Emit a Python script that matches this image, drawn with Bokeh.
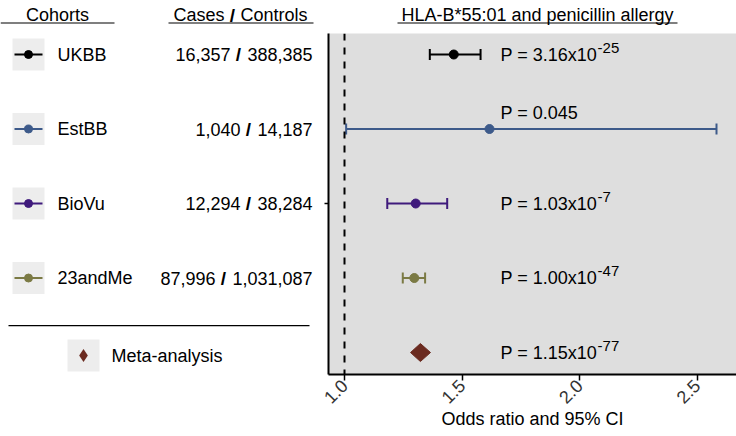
import math
from bokeh.plotting import figure
from bokeh.layouts import column, row
from bokeh.models import Range1d, ColumnDataSource, Span, FixedTicker, PrintfTickFormatter
from bokeh.core.properties import value
from bokeh.embed import file_html
from bokeh.resources import INLINE

# ---------------- data ----------------
cohorts = ["UKBB", "EstBB", "BioVu", "23andMe"]
cases = ["16,357", "1,040", "12,294", "87,996"]
controls = ["388,385", "14,187", "38,284", "1,031,087"]
odds_ratio = [1.465, 1.617, 1.303, 1.297]
ci_low = [1.363, 1.007, 1.182, 1.248]
ci_high = [1.579, 2.583, 1.437, 1.343]
p_mantissa = ["3.16x10", "0.045", "1.03x10", "1.00x10"]
p_exponent = ["-25", "", "-7", "-47"]

meta_label = "Meta-analysis"
meta_or = 1.323
meta_low = 1.281
meta_high = 1.366
meta_p_mantissa = "1.15x10"
meta_p_exponent = "-77"

x_ticks = [1.0, 1.5, 2.0, 2.5]
colors = ["#000000", "#3D5A8A", "#3F1A7C", "#7B7A44"]
meta_color = "#6B2B20"

title_text = "HLA-B*55:01 and penicillin allergy"
x_label = "Odds ratio and 95% CI"

# ---------------- styling ----------------
FONT = value("Liberation Sans")
FS = 18
SUP_FS = 15
PANEL_BG = "#DEDEDE"
KEY_BG = "#EDEDED"
ROW_TOP, ROW_BOTTOM = 0.718, 5.295
P_X = 1.664
TOTAL_W, TOTAL_H = 736, 436
HEAD_H = 33
LEFT_W = 316
FRAME_LEFT = 328          # page x of forest panel's left edge
PX_PER_UNIT = 235.0       # horizontal scale of forest panel
BOTTOM_BORDER = 62

# approximate Arial/Helvetica advance widths (em)
_W = {c: 0.556 for c in "0123456789"}
_W.update({".": 0.278, ",": 0.278, "x": 0.5, "P": 0.667, " ": 0.278, "=": 0.584, "-": 0.333})


def text_width(s, size):
    return sum(_W.get(c, 0.55) for c in s) * size


rows = list(range(1, len(cohorts) + 1))
meta_row = len(cohorts) + 1
body_h = TOTAL_H - HEAD_H

# ---------------- header figure ----------------
head = figure(width=TOTAL_W, height=HEAD_H, x_range=Range1d(0, TOTAL_W), y_range=Range1d(HEAD_H, 0),
              toolbar_location=None, output_backend="svg", x_axis_type=None, y_axis_type=None,
              min_border=0, outline_line_color=None)
HEAD_Y = 14.5
head.text(x=[57, 537], y=[HEAD_Y, HEAD_Y], text=["Cohorts", title_text],
          text_font=FONT, text_font_size=f"{FS}px", text_align="center",
          text_baseline="alphabetic", text_color="black")
head.text(x=[224], y=[HEAD_Y], text=["Cases"], text_font=FONT, text_font_size=f"{FS}px",
          text_align="right", text_baseline="alphabetic", text_color="black")
head.text(x=[232], y=[HEAD_Y], text=["/"], text_font=FONT, text_font_size=f"{FS + 1}px",
          text_font_style="bold", text_align="center", text_baseline="alphabetic", text_color="black")
head.text(x=[240], y=[HEAD_Y], text=["Controls"], text_font=FONT, text_font_size=f"{FS}px",
          text_align="left", text_baseline="alphabetic", text_color="black")
head.segment(x0=[0, 168, 397], y0=[22.5] * 3, x1=[114, 313, 677], y1=[22.5] * 3,
             line_color="black", line_width=1.2)

# ---------------- left (table) figure ----------------
left = figure(width=LEFT_W, height=body_h, x_range=Range1d(0, LEFT_W),
              y_range=Range1d(ROW_BOTTOM, ROW_TOP),
              toolbar_location=None, output_backend="svg", x_axis_type=None, y_axis_type=None,
              min_border_left=0, min_border_right=0, min_border_top=0,
              min_border_bottom=BOTTOM_BORDER, outline_line_color=None)

KEY_X, LABEL_X, NUM_X = 28, 57, 312
ctrl_w = [text_width(c, FS) for c in controls]
ls = ColumnDataSource(dict(
    row=rows, name=cohorts, color=colors, cases=cases, controls=controls,
    slash=["/"] * len(rows),
    slash_x=[NUM_X - w - 9 for w in ctrl_w],
    cases_x=[NUM_X - w - 17 for w in ctrl_w],
    kx=[KEY_X] * len(rows), kx0=[KEY_X - 14] * len(rows), kx1=[KEY_X + 14] * len(rows),
))
left.rect(x="kx", y="row", width=32, height=32, width_units="screen", height_units="screen",
          fill_color=KEY_BG, line_color=None, source=ls)
left.segment(x0="kx0", y0="row", x1="kx1", y1="row", line_color="color", line_width=2, source=ls)
left.scatter(x="kx", y="row", size=8, fill_color="color", line_color="color", source=ls)
left.text(x=LABEL_X, y="row", text="name", text_font=FONT, text_font_size=f"{FS}px",
          text_baseline="middle", text_align="left", text_color="black", source=ls)
left.text(x=NUM_X, y="row", text="controls", text_font=FONT, text_font_size=f"{FS}px",
          text_baseline="middle", text_align="right", text_color="black", source=ls)
left.text(x="slash_x", y="row", text="slash", text_font=FONT, text_font_size=f"{FS + 1}px",
          text_font_style="bold", text_baseline="middle", text_align="center",
          text_color="black", source=ls)
left.text(x="cases_x", y="row", text="cases", text_font=FONT, text_font_size=f"{FS}px",
          text_baseline="middle", text_align="right", text_color="black", source=ls)

SEP_Y = 4.64
left.segment(x0=[8], y0=[SEP_Y], x1=[309], y1=[SEP_Y], line_color="black", line_width=1.2)
META_KEY_X = 83
left.rect(x=[META_KEY_X], y=[meta_row + 0.04], width=32, height=32, width_units="screen",
          height_units="screen", fill_color=KEY_BG, line_color=None)
left.scatter(x=[META_KEY_X], y=[meta_row + 0.04], marker="diamond", size=13,
             fill_color=meta_color, line_color=None)
left.text(x=[111], y=[meta_row + 0.04], text=[meta_label], text_font=FONT,
          text_font_size=f"{FS}px", text_baseline="middle", text_color="black")

# ---------------- right (forest) figure ----------------
right_w = TOTAL_W - LEFT_W
border_left = FRAME_LEFT - LEFT_W
frame_w = right_w - border_left
x0 = 1.0 - (344 - FRAME_LEFT) / PX_PER_UNIT
x1 = x0 + frame_w / PX_PER_UNIT
p = figure(width=right_w, height=body_h, x_range=Range1d(x0, x1), y_range=Range1d(ROW_BOTTOM, ROW_TOP),
           toolbar_location=None, output_backend="svg",
           min_border_left=border_left, min_border_right=0, min_border_top=0,
           min_border_bottom=BOTTOM_BORDER,
           background_fill_color=PANEL_BG, border_fill_color="white", outline_line_color=None)
p.xgrid.visible = False
p.ygrid.visible = False

p.xaxis.ticker = FixedTicker(ticks=x_ticks)
p.xaxis.formatter = PrintfTickFormatter(format="%.1f")
p.xaxis.major_label_orientation = math.pi / 4
p.xaxis.major_label_text_font = "Liberation Sans"
p.xaxis.major_label_text_font_size = f"{FS}px"
p.xaxis.major_label_text_color = "#333333"
p.xaxis.major_label_standoff = 2
p.xaxis.major_tick_out = 6
p.xaxis.major_tick_in = 0
p.xaxis.major_tick_line_width = 1.5
p.xaxis.minor_tick_line_color = None
p.xaxis.axis_line_width = 2
p.xaxis.axis_label = x_label
p.xaxis.axis_label_text_font = "Liberation Sans"
p.xaxis.axis_label_text_font_style = "normal"
p.xaxis.axis_label_text_font_size = f"{FS}px"
p.xaxis.axis_label_text_color = "black"
p.xaxis.axis_label_standoff = -3

p.yaxis.ticker = FixedTicker(ticks=[3])
p.yaxis.major_label_overrides = {3: ""}
p.yaxis.major_label_standoff = 0
p.yaxis.major_tick_out = 4
p.yaxis.major_tick_in = 0
p.yaxis.major_tick_line_width = 1.5
p.yaxis.minor_tick_line_color = None
p.yaxis.axis_line_width = 2

p.add_layout(Span(location=1.0, dimension="height", line_dash="7 7", line_width=2,
                  line_color="black"))

src = ColumnDataSource(dict(row=rows, orv=odds_ratio, lo=ci_low, hi=ci_high, color=colors))
p.segment(x0="lo", y0="row", x1="hi", y1="row", line_color="color", line_width=2, source=src)
for col in ("lo", "hi"):
    p.scatter(x=col, y="row", marker="dash", angle=math.pi / 2, size=11,
              line_color="color", line_width=2, source=src)
p.scatter(x="orv", y="row", size=9, fill_color="color", line_color="color", source=src)

h = 9 / 74.5
p.patch(x=[meta_low, meta_or, meta_high, meta_or],
        y=[meta_row, meta_row - h, meta_row, meta_row + h],
        fill_color=meta_color, line_color=meta_color)

all_rows = rows + [meta_row]
mant = p_mantissa + [meta_p_mantissa]
expo = p_exponent + [meta_p_exponent]
ptext = ["P = " + m for m in mant]
yoff = [0 if e else -16 for e in expo]
psrc = ColumnDataSource(dict(
    row=all_rows, txt=ptext, exp=expo, yoff=yoff,
    supx=[text_width(t, FS) + 0.5 for t in ptext],
    supy=[yo - 7 for yo in yoff],
))
p.text(x=P_X, y="row", text="txt", y_offset="yoff", text_font=FONT, text_font_size=f"{FS}px",
       text_baseline="middle", text_align="left", text_color="black", source=psrc)
p.text(x=P_X, y="row", text="exp", x_offset="supx", y_offset="supy", text_font=FONT,
       text_font_size=f"{SUP_FS}px", text_baseline="middle", text_align="left",
       text_color="black", source=psrc)

layout = column(head, row(left, p, spacing=0), spacing=0)
open("out.html", "w").write(file_html(layout, INLINE))
